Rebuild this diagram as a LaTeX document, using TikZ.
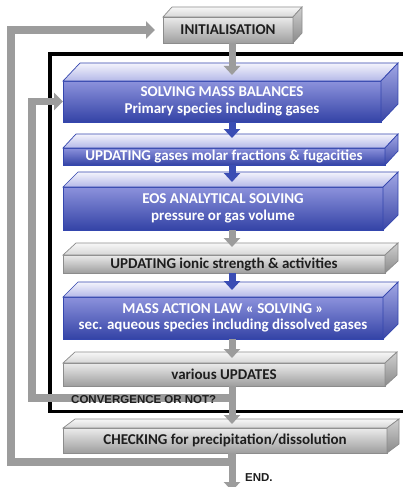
\documentclass[tikz,border=0pt]{standalone}
\usepackage{fontspec}
\newfontfamily\calfont{Carlito}
\newfontfamily\arialfont{Liberation Sans}
\usetikzlibrary{arrows.meta,calc}
\definecolor{bluetop}{HTML}{8C92DC}
\definecolor{bluebot}{HTML}{3443A6}
\definecolor{bluedge}{HTML}{3446AE}
\definecolor{bluetopface1}{HTML}{F4F4FC}
\definecolor{bluetopface2}{HTML}{B4B8E8}
\definecolor{blueside1}{HTML}{A0A6E4}
\definecolor{blueside2}{HTML}{3A46A6}
\definecolor{graytop}{HTML}{EBEBEB}
\definecolor{graybot}{HTML}{9E9E9E}
\definecolor{grayedge}{HTML}{8C8C8C}
\definecolor{graytopface1}{HTML}{F7F7F7}
\definecolor{graytopface2}{HTML}{D6D6D6}
\definecolor{grayside1}{HTML}{CFCFCF}
\definecolor{grayside2}{HTML}{8A8A8A}
\definecolor{arrgray}{HTML}{9C9C9C}
\definecolor{arrblue}{HTML}{3A4DB4}
\definecolor{gtext}{HTML}{1E1E1E}
\newcommand\cubefaces[4]{%
  \path[#4top] (#1.north west) -- ++(#2,-#3) -- ($(#1.north east)+(#2,-#3)$) -- (#1.north east) -- cycle;
  \path[#4side] (#1.north east) -- ++(#2,-#3) -- ($(#1.south east)+(#2,-#3)$) -- (#1.south east) -- cycle;}
\begin{document}
\begin{tikzpicture}[x=1pt,y=-1pt,
  front/.style={draw, line width=0.7pt, inner sep=0pt, outer sep=0pt, align=center,
    font=\calfont\bfseries\fontsize{15}{16.5}\selectfont},
  bluebox/.style={front, draw=bluedge, top color=bluetop, bottom color=bluebot, text=white},
  graybox/.style={front, draw=grayedge, top color=graytop, bottom color=graybot, text=gtext},
  bluetop/.style={draw=bluedge, line width=0.7pt, top color=bluetopface1, bottom color=bluetopface2},
  blueside/.style={draw=bluedge, line width=0.7pt, top color=blueside1, bottom color=blueside2},
  graytop/.style={draw=grayedge, line width=0.7pt, top color=graytopface1, bottom color=graytopface2},
  grayside/.style={draw=grayedge, line width=0.7pt, top color=grayside1, bottom color=grayside2},
  garrow/.style={draw=arrgray, line width=7pt, -{Triangle[width=16pt,length=9pt]}},
  barrow/.style={draw=arrblue, line width=7pt, -{Triangle[width=16pt,length=9pt]}},
  gloop/.style={draw=arrgray, line width=7.5pt, line join=miter, -{Triangle[width=17pt,length=9pt]}},
  lbl/.style={font=\arialfont\bfseries\fontsize{11.5}{13}\selectfont, text=gtext, inner sep=0pt, anchor=west}
]
\useasboundingbox (0,0) rectangle (403,487);
\fill[white] (0,0) rectangle (403,487);
% black frame
\draw[line width=3.5pt, line join=miter] (410,54) -- (50,54) -- (50,411.5) -- (410,411.5);
\coordinate (ax) at (232,0);
% boxes
\node[graybox, minimum width=130pt, minimum height=26pt] (init) at (228,30) {INITIALISATION};
\cubefaces{init}{9}{10}{gray}
\node[bluebox, minimum width=318pt, minimum height=41pt] (smb) at (222,101.5) {SOLVING MASS BALANCES\\Primary species including gases};
\cubefaces{smb}{17}{18}{blue}
\node[bluebox, minimum width=322pt, minimum height=17pt] (ug) at (224,156.5) {UPDATING gases molar fractions \& fugacities};
\cubefaces{ug}{13}{14}{blue}
\node[bluebox, minimum width=320pt, minimum height=43pt] (eos) at (223,208.5) {EOS ANALYTICAL SOLVING\\pressure or gas volume};
\cubefaces{eos}{15}{15}{blue}
\node[graybox, minimum width=322pt, minimum height=18pt] (ui) at (224,264) {UPDATING ionic strength \& activities};
\cubefaces{ui}{13}{12}{gray}
\node[bluebox, minimum width=320pt, minimum height=42pt] (mal) at (223,318) {MASS ACTION LAW « SOLVING »\\sec. aqueous species including dissolved gases};
\cubefaces{mal}{15}{15}{blue}
\node[graybox, minimum width=322pt, minimum height=23pt] (vu) at (224,374.5) {various UPDATES};
\cubefaces{vu}{12}{11}{gray}
\node[graybox, minimum width=324pt, minimum height=25pt] (chk) at (225,440.5) {CHECKING for precipitation/dissolution};
\cubefaces{chk}{12}{9}{gray}
% straight arrows
\draw[garrow] (init.south -| ax) -- ($(smb.north -| ax)+(0,-6)$);
\draw[barrow] (smb.south -| ax) -- ($(ug.north -| ax)+(0,-10)$);
\draw[barrow] (ug.south -| ax) -- ($(eos.north -| ax)+(0,-5)$);
\draw[garrow] (eos.south -| ax) -- ($(ui.north -| ax)+(0,-8)$);
\draw[barrow] (ui.south -| ax) -- ($(mal.north -| ax)+(0,-7)$);
\draw[garrow] (mal.south -| ax) -- ($(vu.north -| ax)+(0,-5)$);
% inner loop
\coordinate (i1) at (32,398);
\coordinate (i2) at (32,101.5);
\draw[gloop] (ax |- i1) -- (i1) -- (i2) -- (smb.west);
\draw[garrow] (vu.south -| ax) -- ($(chk.north -| ax)+(0,-4)$);
% outer loop
\coordinate (o1) at (11,462);
\coordinate (o2) at (11,30);
\coordinate (endc) at (232,491);
\draw[gloop] (chk.south -| ax) -- (ax |- o1) -- (o1) -- (o2) -- ($(init.west)+(-8,0)$);
\draw[garrow] (chk.south -| ax) -- (endc);
% labels
\node[lbl] (conv) at (71,400) {CONVERGENCE OR NOT?};
\node[lbl] (endl) at (245,478) {END.};
\end{tikzpicture}
\end{document}
